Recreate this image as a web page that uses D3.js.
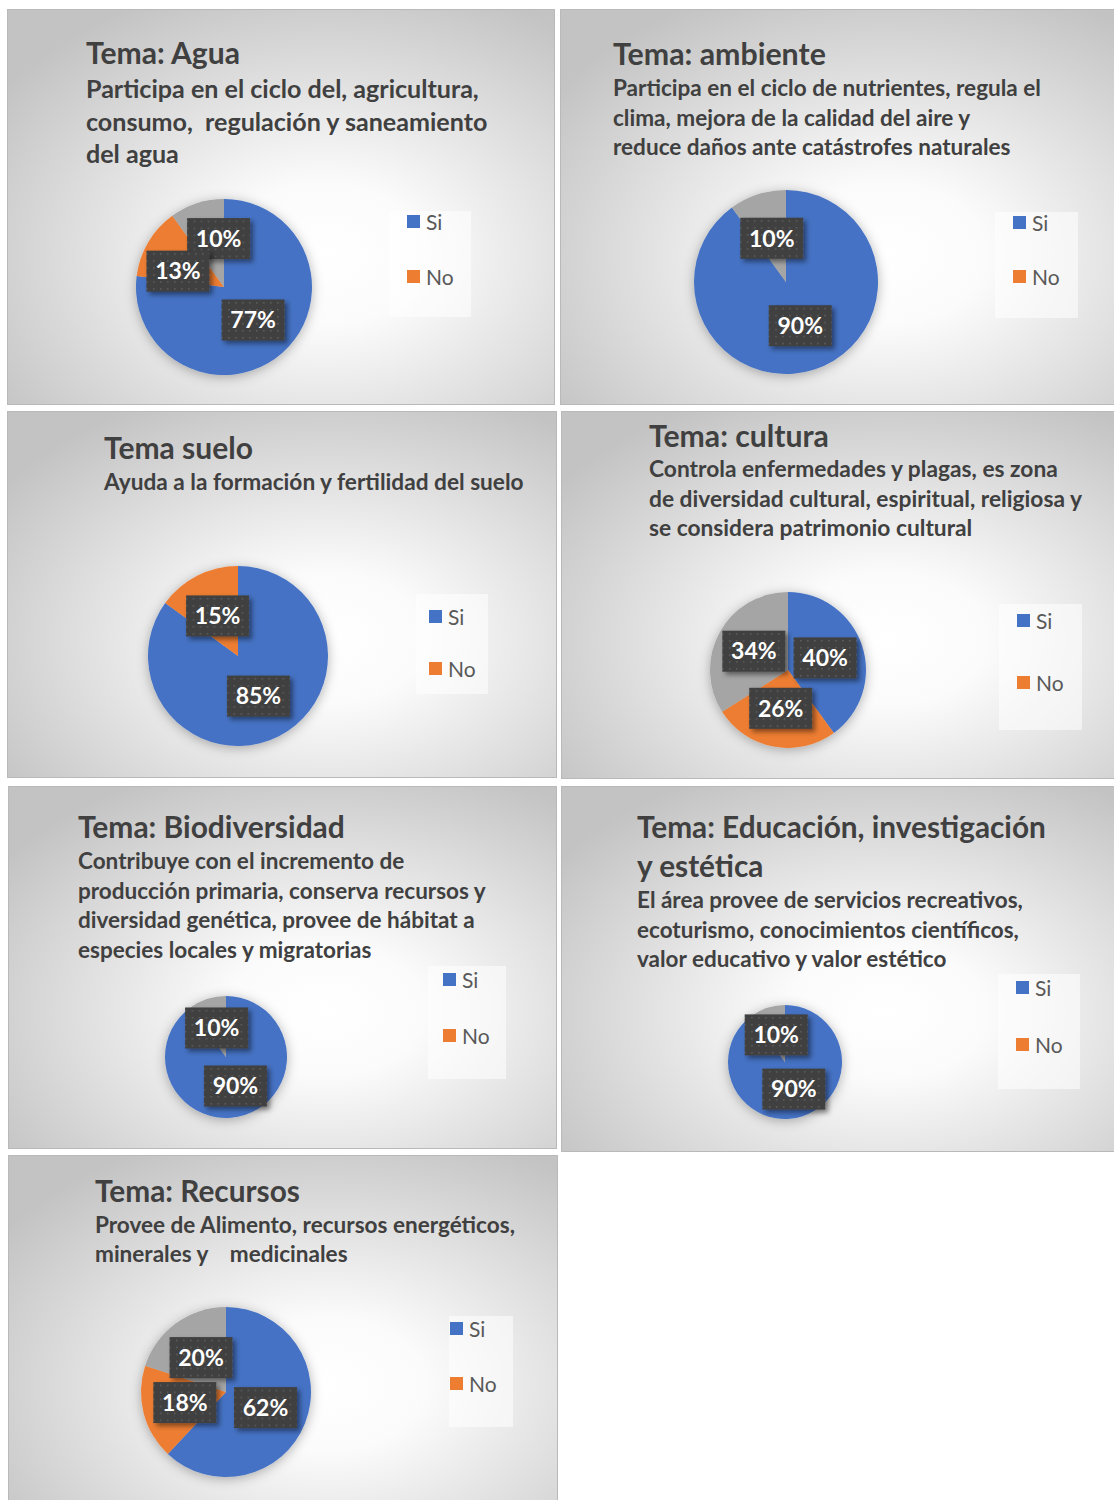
<!DOCTYPE html>
<html>
<head>
<meta charset="utf-8">
<script src="https://cdn.jsdelivr.net/npm/d3@7"></script>
<style>
  body { margin: 0; background: #ffffff; }
  svg { display: block; }
  text { font-family: Lato, "Open Sans", sans-serif; }
</style>
</head>
<body>
<script>
// ---- Data ----
const temas = [
  ["Tema: Agua"],
  ["Tema: ambiente"],
  ["Tema suelo"],
  ["Tema: cultura"],
  ["Tema: Biodiversidad"],
  ["Tema: Educación, investigación", "y estética"],
  ["Tema: Recursos"]
];
const subtitulos = [
  ["Participa en el ciclo del, agricultura,", "consumo,  regulación y saneamiento", "del agua"],
  ["Participa en el ciclo de nutrientes, regula el", "clima, mejora de la calidad del aire y", "reduce daños ante catástrofes naturales"],
  ["Ayuda a la formación y fertilidad del suelo"],
  ["Controla enfermedades y plagas, es zona", "de diversidad cultural, espiritual, religiosa y", "se considera patrimonio cultural"],
  ["Contribuye con el incremento de", "producción primaria, conserva recursos y", "diversidad genética, provee de hábitat a", "especies locales y migratorias"],
  ["El área provee de servicios recreativos,", "ecoturismo, conocimientos científicos,", "valor educativo y valor estético"],
  ["Provee de Alimento, recursos energéticos,", "minerales y    medicinales"]
];
const categorias = ["Si", "No", "Otro"];
const leyenda = ["Si", "No"];
const valoresSi   = [77, 90, 85, 40, 90, 90, 62];
const valoresNo   = [13,  0, 15, 26,  0,  0, 18];
const valoresOtro = [10, 10,  0, 34, 10, 10, 20];

// ---- Layout of each chart panel ----
// tw / sw: width the first title line / the sl-th subtitle line spans
const layout = [
  {x:7,   y:9,    w:547, h:395, tx:86,  ty:[53],     tw:154, sy:89,  lh:32.5, sw:393, sl:0, cx:224, cy:287,  r:88,
   lg:{x:389, y:211,  w:82, h:106, sq:407, ys:[222, 277]}},
  {x:560, y:9,    w:560, h:395, tx:613, ty:[54],     tw:213, sy:88,  lh:29.5, sw:428, sl:0, cx:786, cy:282,  r:92,
   lg:{x:995, y:212,  w:83, h:106, sq:1013, ys:[223, 277]}},
  {x:7,   y:411,  w:549, h:366, tx:104, ty:[448],    tw:149, sy:482, lh:30,   sw:420, sl:0, cx:238, cy:656,  r:90,
   lg:{x:416, y:594,  w:72, h:100, sq:429, ys:[617, 669]}},
  {x:561, y:411,  w:560, h:367, tx:649, ty:[436],    tw:180, sy:469, lh:29.5, sw:433, sl:1, cx:788, cy:670,  r:78,
   lg:{x:999, y:604,  w:83, h:126, sq:1017, ys:[621, 683]}},
  {x:8,   y:786,  w:548, h:362, tx:78,  ty:[827],    tw:267, sy:861, lh:29.5, sw:408, sl:1, cx:226, cy:1057, r:61,
   lg:{x:428, y:966,  w:78, h:113, sq:443, ys:[980, 1036]}},
  {x:561, y:786,  w:560, h:365, tx:637, ty:[827, 866], tw:409, sy:900, lh:29.5, sw:386, sl:0, cx:785, cy:1062, r:57,
   lg:{x:998, y:974,  w:82, h:115, sq:1016, ys:[988, 1045]}},
  {x:8,   y:1155, w:549, h:370, tx:95,  ty:[1191],   tw:205, sy:1225, lh:29, sw:420, sl:0, cx:226, cy:1392, r:85,
   lg:{x:449, y:1316, w:64, h:111, sq:450, ys:[1329, 1384]}}
];

const color = d3.scaleOrdinal().domain(categorias).range(["#4472C4", "#ED7D31", "#A5A5A5"]);
const W = 1114, H = 1500;

const svg = d3.select("body").append("svg").attr("width", W).attr("height", H);
const defs = svg.append("defs");

// panel background: soft radial light
const grad = defs.append("radialGradient").attr("id", "fondo")
  .attr("cx", "0.58").attr("cy", "0.62").attr("r", "0.72");
grad.append("stop").attr("offset", "0").attr("stop-color", "#ffffff");
grad.append("stop").attr("offset", "0.25").attr("stop-color", "#fbfbfb");
grad.append("stop").attr("offset", "1").attr("stop-color", "#c3c3c3");

// dotted dark fill for the value labels
const pat = defs.append("pattern").attr("id", "puntos").attr("patternUnits", "userSpaceOnUse")
  .attr("width", 7).attr("height", 7);
pat.append("rect").attr("width", 7).attr("height", 7).attr("fill", "#3f3f3f");
pat.append("rect").attr("x", 3).attr("y", 3).attr("width", 1.6).attr("height", 1.6).attr("fill", "#5e5e5e");

const sombraPie = defs.append("filter").attr("id", "sombraPie")
  .attr("x", "-30%").attr("y", "-30%").attr("width", "160%").attr("height", "160%");
sombraPie.append("feDropShadow").attr("dx", 0).attr("dy", 2).attr("stdDeviation", 6)
  .attr("flood-color", "#000").attr("flood-opacity", 0.3);

const sombraEtiqueta = defs.append("filter").attr("id", "sombraEtiqueta")
  .attr("x", "-30%").attr("y", "-30%").attr("width", "160%").attr("height", "160%");
sombraEtiqueta.append("feDropShadow").attr("dx", 3).attr("dy", 3).attr("stdDeviation", 2.5)
  .attr("flood-color", "#000").attr("flood-opacity", 0.45);

const pie = d3.pie().sort(null).value(d => d.v);

// draw a block of lines, sizing the font so line `ref` spans `width`
function bloque(g, lines, x, ys, width, ref) {
  const base = 20;
  const t = g.selectAll(null).data(lines).join("text")
    .attr("x", x).attr("y", (d, k) => ys(k)).attr("dy", "0.36em")
    .attr("font-size", base).attr("font-weight", 700).attr("fill", "#404040")
    .style("white-space", "pre").text(d => d);
  const len = t.nodes()[ref].getComputedTextLength();
  t.attr("font-size", base * width / len);
}

layout.forEach((L, i) => {
  const g = svg.append("g");

  g.append("rect").attr("x", L.x + 0.5).attr("y", L.y + 0.5)
    .attr("width", L.w).attr("height", L.h)
    .attr("fill", "url(#fondo)").attr("stroke", "#b9b9b9").attr("stroke-width", 1);

  bloque(g, temas[i], L.tx, k => L.ty[k], L.tw, 0);
  bloque(g, subtitulos[i], L.tx, k => L.sy + k * L.lh, L.sw, L.sl);

  // pie
  const datos = categorias.map((c, k) => ({ c, v: [valoresSi, valoresNo, valoresOtro][k][i] }));
  const arcos = pie(datos);
  const arc = d3.arc().innerRadius(0).outerRadius(L.r);
  const pg = g.append("g").attr("transform", `translate(${L.cx},${L.cy})`);
  pg.append("g").attr("filter", "url(#sombraPie)")
    .selectAll("path").data(arcos.filter(a => a.data.v > 0)).join("path")
    .attr("d", arc).attr("fill", a => color(a.data.c));

  // value labels at slice centroids; colliding pairs slide apart along the line joining them
  const bw = 63, bh = 41, solape = 9;
  const etiquetas = arcos.filter(a => a.data.v > 0).map(a => {
    const [x, y] = arc.centroid(a);
    return { a, x, y };
  });
  for (let it = 0; it < 200; it++) {
    let movido = false;
    for (let p = 0; p < etiquetas.length; p++) {
      for (let q = p + 1; q < etiquetas.length; q++) {
        const A = etiquetas[p], B = etiquetas[q];
        const ox = bw - Math.abs(A.x - B.x), oy = bh - Math.abs(A.y - B.y);
        if (ox > 0 && oy > solape) {
          const dx = B.x - A.x, dy = B.y - A.y, n = Math.hypot(dx, dy) || 1;
          const ux = dx / n * 0.5, uy = dy / n * 0.5;
          A.x -= ux; A.y -= uy; B.x += ux; B.y += uy;
          movido = true;
        }
      }
    }
    if (!movido) break;
  }
  // earlier slices' labels sit on top
  const lg = pg.selectAll("g.et").data(etiquetas.slice().reverse()).join("g")
    .attr("transform", e => `translate(${e.x},${e.y})`);
  lg.append("rect").attr("x", -bw / 2).attr("y", -bh / 2).attr("width", bw).attr("height", bh)
    .attr("fill", "url(#puntos)").attr("filter", "url(#sombraEtiqueta)");
  lg.append("text").attr("text-anchor", "middle").attr("dy", "0.36em")
    .attr("font-size", 23).attr("font-weight", 700).attr("fill", "#ffffff")
    .text(e => e.a.data.v + "%");

  // legend
  g.append("rect").attr("x", L.lg.x).attr("y", L.lg.y).attr("width", L.lg.w).attr("height", L.lg.h)
    .attr("fill", "#ffffff").attr("fill-opacity", 0.55);
  leyenda.forEach((c, k) => {
    const yy = L.lg.ys[k];
    g.append("rect").attr("x", L.lg.sq).attr("y", yy - 7).attr("width", 13).attr("height", 13)
      .attr("fill", color(c));
    g.append("text").attr("x", L.lg.sq + 19).attr("y", yy).attr("dy", "0.36em")
      .attr("font-size", 21).attr("fill", "#595959").text(c);
  });
});
</script>
</body>
</html>
